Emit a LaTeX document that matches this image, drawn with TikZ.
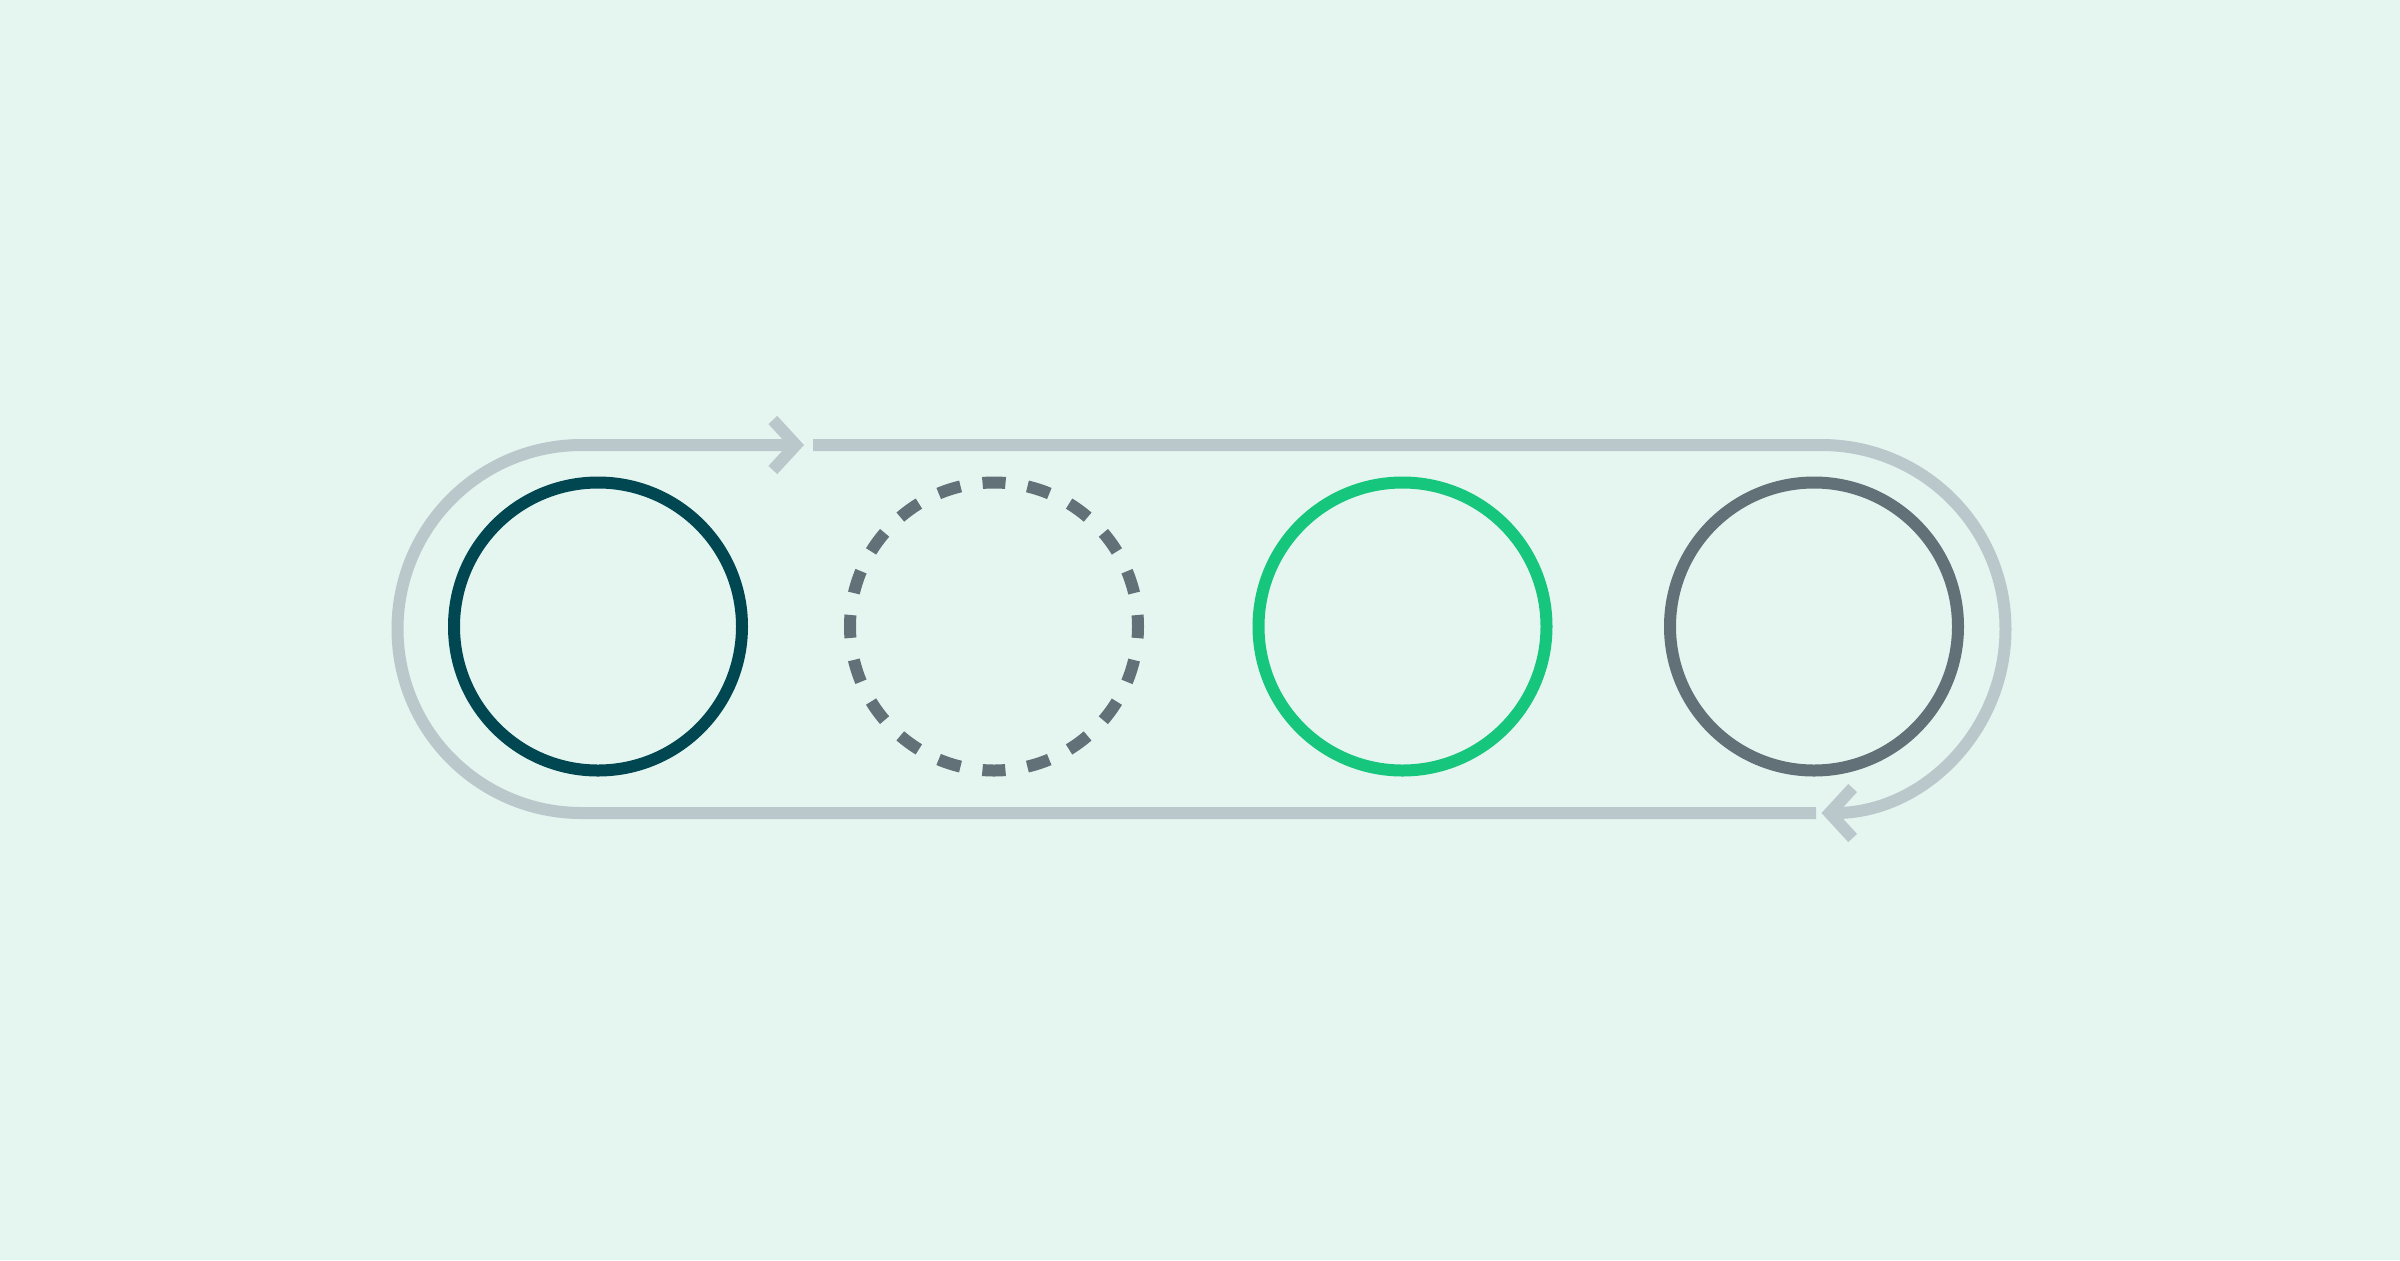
\documentclass[tikz,border=0pt]{standalone}
\usetikzlibrary{arrows.meta}
\definecolor{bgc}{HTML}{E5F5F0}
\definecolor{loopc}{HTML}{BAC8CB}
\definecolor{darkc}{HTML}{004752}
\definecolor{grayc}{HTML}{627078}
\definecolor{greenc}{HTML}{17C67D}
\tikzset{
  ring/.style={circle, minimum size=144pt, inner sep=0pt, outer sep=0pt, line width=6pt, draw=#1},
  dashring/.style={ring=grayc, dash pattern=on 11.5pt off 11.12pt, dash phase=5.75pt},
  loopline/.style={draw=loopc, line width=6pt},
  looptip/.style={-{Straight Barb[length=11.5pt,width=25pt]}}
}
\begin{document}
\begin{tikzpicture}[x=0.5pt,y=-0.5pt]
\fill[bgc] (0,0) rectangle (2400,1260);
\useasboundingbox (0,0) rectangle (2400,1260);
\node[ring=darkc] (c1) at (598,626.5) {};
\node[dashring] (c2) at (994,626.5) {};
\node[ring=greenc] (c3) at (1402.5,626.5) {};
\node[ring=grayc] (c4) at (1814,626.5) {};
\coordinate (bstart) at (1816,813);
\coordinate (bleft) at (581.5,813);
\coordinate (tip1) at (804,445);
\coordinate (tstart) at (813,445);
\coordinate (tright) at (1821.5,445);
\draw[loopline, looptip] (bstart) -- (bleft) arc[start angle=90, end angle=270, radius=184] -- (tip1);
\draw[loopline, looptip] (tstart) -- (tright) arc[start angle=-90, end angle=90, radius=184];
\end{tikzpicture}
\end{document}
